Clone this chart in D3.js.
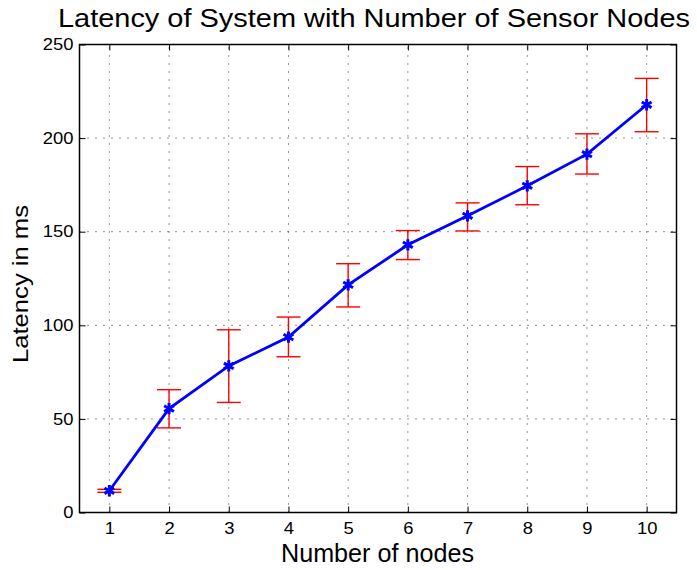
<!DOCTYPE html>
<html>
<head>
<meta charset="utf-8">
<script src="https://cdn.jsdelivr.net/npm/d3@7"></script>
<style>
  body { margin: 0; background: #fff; }
  text { font-family: "Liberation Sans", Arial, sans-serif; }
</style>
</head>
<body>
<svg id="chart" width="697" height="570"></svg>
<script>
// Mean latency per node count, with lower/upper error bounds
const nodes = [1, 2, 3, 4, 5, 6, 7, 8, 9, 10];
const latency = [11.6, 55.5, 78.3, 93.7, 121.6, 143.0, 158.5, 174.5, 191.4, 217.8];
const lower = [10.8, 45.2, 58.8, 83.2, 109.8, 135.1, 150.4, 164.4, 180.8, 203.4];
const upper = [12.4, 65.6, 97.6, 104.4, 132.9, 150.6, 165.4, 184.8, 202.3, 231.9];
const xTicks = [1, 2, 3, 4, 5, 6, 7, 8, 9, 10];
const yTicks = [0, 50, 100, 150, 200, 250];

const svg = d3.select("#chart");
const plotL = 79.5, plotR = 676.5, plotT = 44.5, plotB = 512.5;

const x = d3.scaleLinear().domain([0.5, 10.5]).range([plotL, plotR]);
const y = d3.scaleLinear().domain([0, 250]).range([plotB, plotT]);

// dotted grid
const grid = svg.append("g").attr("stroke", "#000").attr("stroke-width", 1)
  .attr("stroke-dasharray", "1,7").attr("opacity", 0.85);
grid.selectAll(".gx").data(xTicks).join("line")
  .attr("x1", d => x(d)).attr("x2", d => x(d)).attr("y1", plotB).attr("y2", plotT);
grid.selectAll(".gy").data(yTicks.slice(1, -1)).join("line")
  .attr("y1", d => y(d)).attr("y2", d => y(d)).attr("x1", plotL).attr("x2", plotR);

// axes with inward ticks; tick labels drawn slightly wide
const tickLen = 6, stretch = 1.15;
svg.append("g").attr("transform", `translate(0,${plotB})`)
  .call(d3.axisBottom(x).tickValues(xTicks).tickSizeInner(-tickLen).tickSizeOuter(0).tickPadding(10))
  .call(g => g.select(".domain").remove())
  .call(g => g.selectAll("text").attr("font-size", 16).attr("fill", "#000")
    .attr("transform", `scale(${stretch},1)`));
svg.append("g").attr("transform", `translate(0,${plotT})`)
  .call(d3.axisTop(x).tickValues(xTicks).tickSizeInner(-tickLen).tickSizeOuter(0).tickFormat(""))
  .call(g => g.select(".domain").remove());
svg.append("g").attr("transform", `translate(${plotL},0)`)
  .call(d3.axisLeft(y).tickValues(yTicks).tickSizeInner(-tickLen).tickSizeOuter(0))
  .call(g => g.select(".domain").remove())
  .call(g => g.selectAll("text").attr("font-size", 16).attr("fill", "#000")
    .attr("x", -6 / stretch).attr("transform", `scale(${stretch},1)`));
svg.append("g").attr("transform", `translate(${plotR},0)`)
  .call(d3.axisRight(y).tickValues(yTicks).tickSizeInner(-tickLen).tickSizeOuter(0).tickFormat(""))
  .call(g => g.select(".domain").remove());

svg.append("rect").attr("x", plotL).attr("y", plotT)
  .attr("width", plotR - plotL).attr("height", plotB - plotT)
  .attr("fill", "none").attr("stroke", "#000").attr("stroke-width", 1.5);

// error bars
const eb = svg.append("g").attr("stroke", "#ff0000").attr("stroke-width", 1.4);
const cap = 12;
nodes.forEach((n, i) => {
  eb.append("line").attr("x1", x(n)).attr("x2", x(n)).attr("y1", y(lower[i])).attr("y2", y(upper[i]));
  eb.append("line").attr("x1", x(n) - cap).attr("x2", x(n) + cap).attr("y1", y(lower[i])).attr("y2", y(lower[i]));
  eb.append("line").attr("x1", x(n) - cap).attr("x2", x(n) + cap).attr("y1", y(upper[i])).attr("y2", y(upper[i]));
});

// mean line
const line = d3.line().x((d, i) => x(nodes[i])).y(d => y(d));
svg.append("path").datum(latency).attr("d", line)
  .attr("fill", "none").attr("stroke", "#0000ff").attr("stroke-width", 2.8);

// star markers
const star = d3.symbol().type(d3.symbolAsterisk).size(90);
svg.append("g").selectAll("path").data(latency).join("path")
  .attr("d", star)
  .attr("transform", (d, i) => `translate(${x(nodes[i])},${y(d)})`)
  .attr("fill", "none").attr("stroke", "#0000ff").attr("stroke-width", 3);

// labels
svg.append("text").attr("x", 58).attr("y", 27)
  .attr("font-size", 25.5).attr("textLength", 632).attr("lengthAdjust", "spacingAndGlyphs")
  .text("Latency of System with Number of Sensor Nodes");
svg.append("text").attr("x", 281).attr("y", 562)
  .attr("font-size", 25.5).attr("textLength", 193).attr("lengthAdjust", "spacingAndGlyphs")
  .text("Number of nodes");
svg.append("text").attr("transform", `translate(28,284) rotate(-90)`)
  .attr("text-anchor", "middle").attr("font-size", 22)
  .attr("textLength", 158).attr("lengthAdjust", "spacingAndGlyphs")
  .text("Latency in ms");
</script>
</body>
</html>
